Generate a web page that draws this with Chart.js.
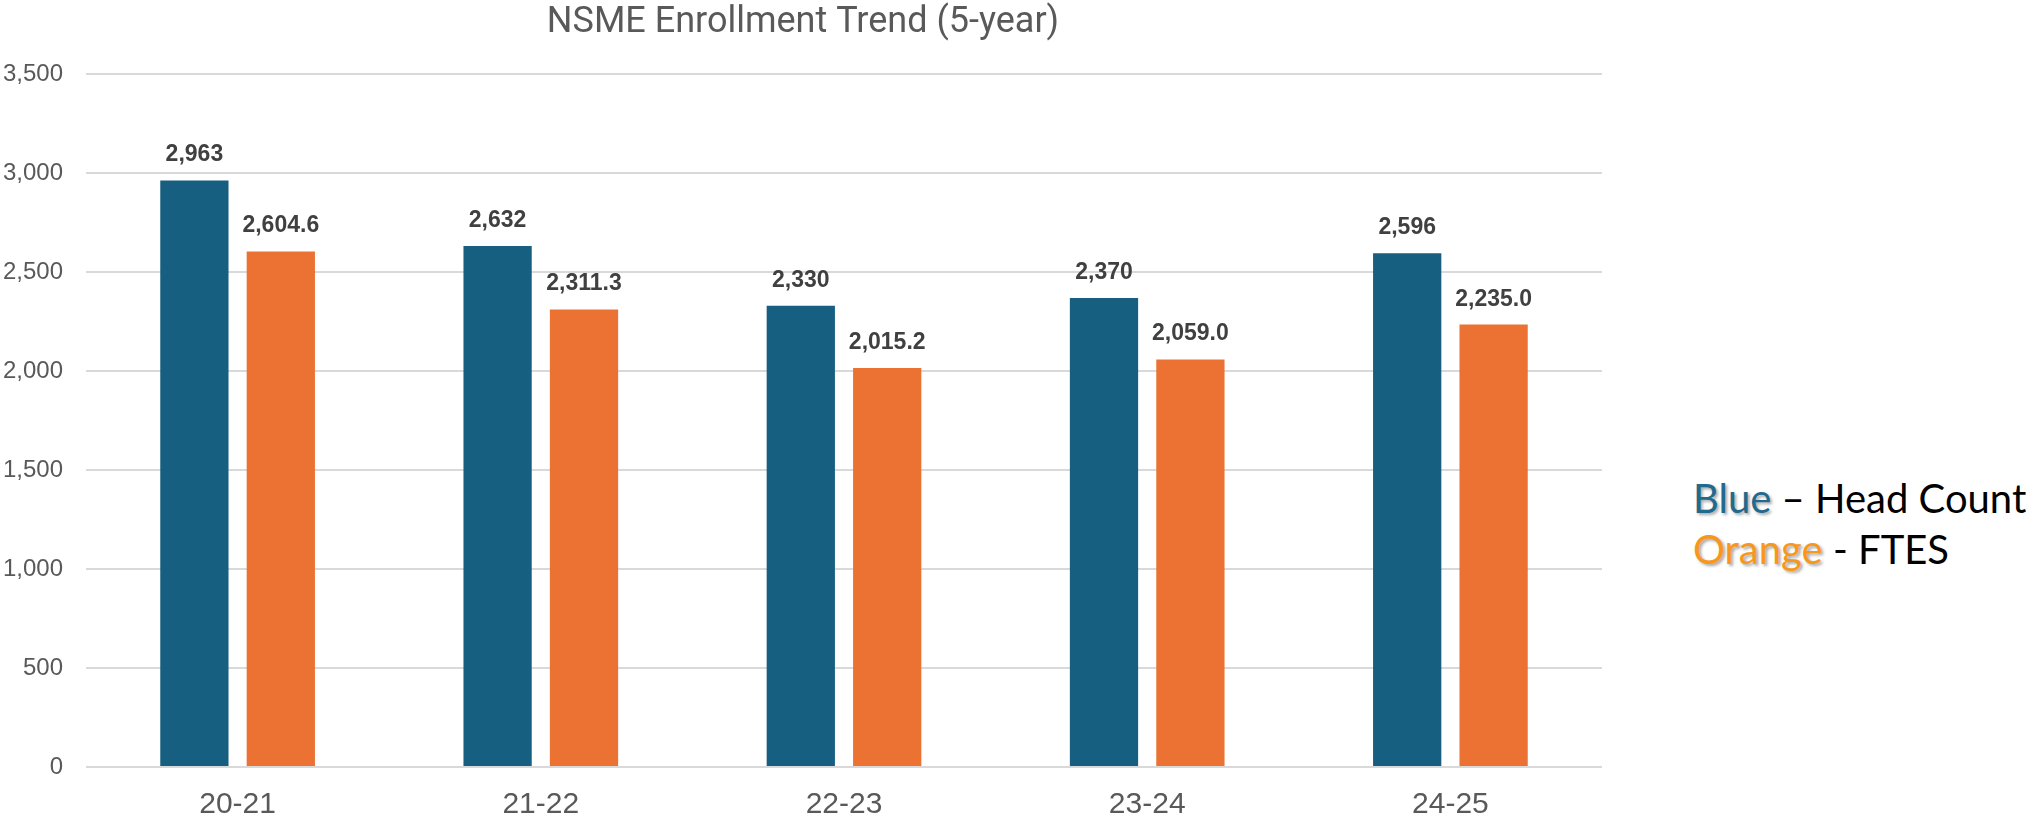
<!DOCTYPE html>
<html>
<head>
<meta charset="utf-8">
<script src="https://cdn.jsdelivr.net/npm/chart.js@4.4.0/dist/chart.umd.min.js"></script>
<style>
    body { margin: 0; background: #fff; }
    #wrap { position: relative; width: 2036px; height: 819px; }
    #chartBox { position: absolute; left: 0; top: 0; width: 1640px; height: 819px; }
    #legend {
        position: absolute; left: 1693px; top: 473px;
        font-family: Lato, sans-serif; font-size: 40px; line-height: 51px; color: #000;
        white-space: nowrap;
    }
    #legend .blue { color: #1f6a8d; text-shadow: 2px 2px 3px rgba(0,0,0,0.35); }
    #legend .orange { color: #f7981d; text-shadow: 2px 2px 3px rgba(0,0,0,0.35); }
</style>
</head>
<body>
<div id="wrap">
    <div id="chartBox"><canvas id="enrollChart"></canvas></div>
    <div id="legend">
        <div><span class="blue">Blue</span> – Head Count</div>
        <div><span class="orange">Orange</span> - FTES</div>
    </div>
</div>
<script>
const years = ["20-21", "21-22", "22-23", "23-24", "24-25"];
const headCount = [2963, 2632, 2330, 2370, 2596];
const ftes = [2604.6, 2311.3, 2015.2, 2059.0, 2235.0];
const yTicks = [0, 500, 1000, 1500, 2000, 2500, 3000, 3500];

// draw value labels above bars
const barLabels = {
    id: 'barLabels',
    afterDatasetsDraw(chart) {
        const ctx = chart.ctx;
        ctx.save();
        ctx.font = 'bold 23px "Liberation Sans", Arial, sans-serif';
        ctx.fillStyle = '#404040';
        ctx.textAlign = 'center';
        ctx.textBaseline = 'alphabetic';
        chart.data.datasets.forEach(function (ds, i) {
            chart.getDatasetMeta(i).data.forEach(function (bar, j) {
                const v = ds.data[j];
                const txt = v.toLocaleString('en-US', {
                    minimumFractionDigits: ds.decimals, maximumFractionDigits: ds.decimals
                });
                ctx.fillText(txt, bar.x, bar.y - 19);
            });
        });
        ctx.restore();
    }
};

function createChart(id, config) {
    const ctx = document.getElementById(id);
    if (!ctx) {
        console.error(`Canvas element with id '${id}' not found`);
        return;
    }
    ctx.chart = new Chart(ctx, config);
}

createChart("enrollChart", {
    type: "bar",
    data: {
        labels: years,
        datasets: [
            {
                label: "Head Count",
                data: headCount,
                decimals: 0,
                backgroundColor: "#175f81",
                categoryPercentage: 0.57,
                barPercentage: 0.79,
            },
            {
                label: "FTES",
                data: ftes,
                decimals: 1,
                backgroundColor: "#eb7233",
                categoryPercentage: 0.57,
                barPercentage: 0.79,
            },
        ],
    },
    options: {
        responsive: true,
        maintainAspectRatio: false,
        animation: false,
        layout: { padding: { left: 4, right: 38, top: 0, bottom: 0 } },
        plugins: {
            legend: { display: false },
            tooltip: { enabled: false },
            title: {
                display: true,
                text: "NSME Enrollment Trend (5-year)",
                color: "#595959",
                font: { family: "Roboto", size: 36, weight: "normal" },
                padding: { top: 1, bottom: 30 },
            },
        },
        scales: {
            y: {
                min: 0,
                max: 3500,
                afterBuildTicks(axis) {
                    axis.ticks = yTicks.map(v => ({ value: v }));
                },
                afterFit(axis) { axis.width = 82; },
                grid: { color: "#d9d9d9", lineWidth: 2, drawTicks: false },
                border: { display: false },
                ticks: {
                    padding: 23,
                    color: "#595959",
                    font: { family: "Liberation Sans", size: 24 },
                    callback: v => v.toLocaleString('en-US'),
                },
            },
            x: {
                afterFit(axis) { axis.height = 52; },
                grid: { display: false, drawTicks: false },
                border: { display: false },
                ticks: {
                    padding: 23,
                    color: "#595959",
                    font: { family: "Liberation Sans", size: 30, lineHeight: 1 },
                },
            },
        },
    },
    plugins: [barLabels],
});
</script>
</body>
</html>
